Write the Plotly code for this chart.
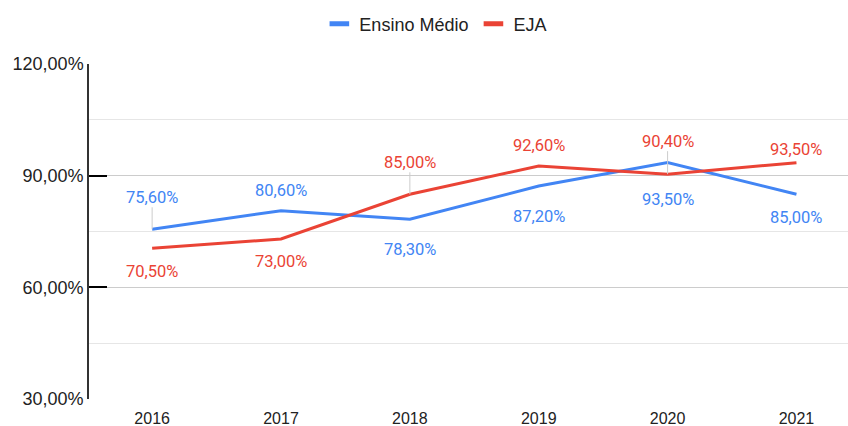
import plotly.graph_objects as go

years = ["2016", "2017", "2018", "2019", "2020", "2021"]
ensino_medio = [75.6, 80.6, 78.3, 87.2, 93.5, 85.0]
eja = [70.5, 73.0, 85.0, 92.6, 90.4, 93.5]
y_ticks = [30, 60, 90, 120]
series_names = ["Ensino Médio", "EJA"]

BLUE = "#4285F4"
RED = "#EA4335"

# label placement (pixel offsets, up positive) and leader-line flags: styles only
blue_off = [32, 20, -30, -30, -37, -23]
blue_lead = [True, False, False, False, False, False]
red_off = [-23, -23, 32, 20, 33, 13]
red_lead = [False, False, True, False, True, False]


def fmt(v):
    return f"{v:.2f}".replace(".", ",") + "%"


fig = go.Figure()
for name, vals, col in [(series_names[0], ensino_medio, BLUE), (series_names[1], eja, RED)]:
    fig.add_trace(go.Scatter(x=years, y=vals, mode="lines", name=name, showlegend=False,
                             line=dict(color=col, width=3), hoverinfo="skip"))
# legend-only entries with a short thick swatch
for name, col in [(series_names[0], BLUE), (series_names[1], RED)]:
    fig.add_trace(go.Scatter(x=[None], y=[None], mode="markers", name=name,
                             marker=dict(symbol="line-ew", size=14, color=col,
                                         line=dict(color=col, width=5)),
                             hoverinfo="skip"))

annotations = []
for vals, offs, leads, col in [(ensino_medio, blue_off, blue_lead, BLUE),
                               (eja, red_off, red_lead, RED)]:
    for i, (v, o, lead) in enumerate(zip(vals, offs, leads)):
        if lead:
            annotations.append(dict(x=i, y=v, xref="x", yref="y", text=fmt(v),
                                    showarrow=True, ax=0, ay=-o,
                                    arrowhead=0, arrowwidth=1, arrowcolor="#cccccc",
                                    standoff=0, borderpad=0,
                                    font=dict(family="Roboto", size=16.5, color=col)))
        else:
            annotations.append(dict(x=i, y=v, xref="x", yref="y", text=fmt(v),
                                    showarrow=False, yshift=o,
                                    font=dict(family="Roboto", size=16.5, color=col)))

fig.update_layout(
    width=848, height=426,
    margin=dict(l=89, r=0, t=64, b=27, autoexpand=False),
    paper_bgcolor="white", plot_bgcolor="white",
    font=dict(family="Arial", size=16, color="#222222"),
    showlegend=True,
    legend=dict(orientation="h", x=0.457, xanchor="center", y=1.119, yanchor="middle",
                font=dict(family="Arial", size=18, color="#222222"), itemwidth=30),
    annotations=annotations,
    xaxis=dict(type="category", range=[-0.49, 5.4], showgrid=False, showline=False,
               ticks="", tickfont=dict(family="Arial", size=16, color="#222222"),
               ticklabelstandoff=8,
               zeroline=False, automargin=False),
    yaxis=dict(range=[30, 120], tickvals=y_ticks, ticktext=[fmt(v) for v in y_ticks],
               showgrid=True, gridcolor="#cccccc", gridwidth=1,
               showline=True, linecolor="#333333", linewidth=1.5,
               ticks="inside", ticklen=18, tickcolor="#000000", tickwidth=1.5,
               tickfont=dict(family="Arial", size=18, color="#222222"),
               minor=dict(dtick=15, tick0=30, showgrid=True, gridcolor="#e6e6e6", ticks=""),
               zeroline=False, fixedrange=True, automargin=False),
)

fig.write_html("out.html", config={"displayModeBar": False},
               post_script="document.body.style.margin='0px';")
